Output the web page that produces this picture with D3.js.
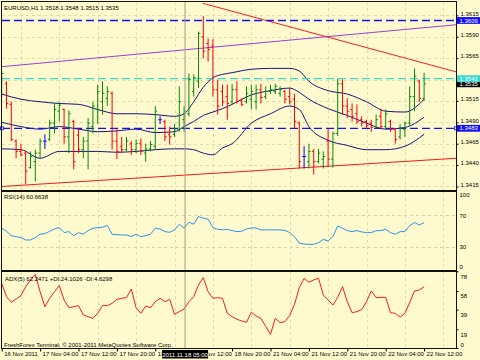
<!DOCTYPE html>
<html><head><meta charset="utf-8">
<script src="https://cdn.jsdelivr.net/npm/d3@7"></script>
<style>
html,body{margin:0;padding:0;background:#fffacd;}
svg{display:block;}
text{font-family:"Liberation Sans",Arial,sans-serif;font-size:6px;fill:#000;}
</style></head><body>
<svg id="c" width="480" height="360"></svg>
<script>
// ---------- DATA ----------
const opens  = [1.3524,1.3535,1.3511,1.3468,1.3456,1.3454,1.3437,1.3444,1.3454,1.3468,1.3470,1.3489,1.3503,1.3505,1.3473,1.3491,1.3475,1.3458,1.3468,1.3485,1.3505,1.3514,1.3518,1.3524,1.3468,1.3462,1.3458,1.3465,1.3458,1.3465,1.3454,1.3459,1.3462,1.3493,1.3491,1.3476,1.3476,1.3482,1.3493,1.3500,1.3526,1.3538,1.3590,1.3582,1.3579,1.3528,1.3526,1.3520,1.3514,1.3528,1.3515,1.3514,1.3517,1.3514,1.3528,1.3520,1.3526,1.3526,1.3524,1.3526,1.3520,1.3517,1.3489,1.3450,1.3444,1.3456,1.3444,1.3447,1.3468,1.3447,1.3477,1.3535,1.3509,1.3505,1.3500,1.3493,1.3491,1.3489,1.3485,1.3497,1.3485,1.3491,1.3482,1.3473,1.3482,1.3489,1.3520,1.3538,1.3518];
const highs  = [1.3550,1.3538,1.3514,1.3470,1.3465,1.3457,1.3456,1.3458,1.3471,1.3476,1.3493,1.3512,1.3514,1.3506,1.3504,1.3493,1.3483,1.3473,1.3495,1.3514,1.3534,1.3538,1.3532,1.3526,1.3482,1.3473,1.3473,1.3468,1.3470,1.3471,1.3465,1.3468,1.3509,1.3497,1.3493,1.3485,1.3488,1.3532,1.3509,1.3547,1.3546,1.3596,1.3614,1.3588,1.3587,1.3540,1.3534,1.3534,1.3535,1.3538,1.3518,1.3532,1.3534,1.3534,1.3535,1.3532,1.3534,1.3535,1.3532,1.3528,1.3530,1.3523,1.3491,1.3462,1.3465,1.3459,1.3459,1.3456,1.3482,1.3479,1.3541,1.3540,1.3518,1.3512,1.3511,1.3497,1.3493,1.3493,1.3499,1.3506,1.3505,1.3493,1.3483,1.3488,1.3491,1.3532,1.3553,1.3540,1.3548];
const lows   = [1.3520,1.3506,1.3468,1.3448,1.3450,1.3418,1.3436,1.3421,1.3448,1.3459,1.3468,1.3477,1.3491,1.3465,1.3454,1.3435,1.3454,1.3448,1.3435,1.3477,1.3488,1.3499,1.3509,1.3458,1.3447,1.3454,1.3456,1.3452,1.3454,1.3452,1.3444,1.3456,1.3458,1.3488,1.3468,1.3464,1.3473,1.3479,1.3479,1.3497,1.3520,1.3530,1.3565,1.3561,1.3520,1.3499,1.3509,1.3493,1.3511,1.3512,1.3509,1.3512,1.3505,1.3505,1.3512,1.3517,1.3523,1.3523,1.3520,1.3512,1.3511,1.3483,1.3436,1.3436,1.3436,1.3429,1.3442,1.3436,1.3438,1.3437,1.3474,1.3499,1.3495,1.3491,1.3488,1.3485,1.3483,1.3479,1.3483,1.3482,1.3482,1.3479,1.3465,1.3470,1.3473,1.3486,1.3503,1.3514,1.3515];
const closes = [1.3547,1.3512,1.3470,1.3456,1.3452,1.3433,1.3450,1.3454,1.3468,1.3468,1.3489,1.3505,1.3510,1.3473,1.3500,1.3444,1.3458,1.3468,1.3489,1.3509,1.3526,1.3524,1.3526,1.3468,1.3456,1.3458,1.3468,1.3458,1.3465,1.3456,1.3459,1.3464,1.3503,1.3493,1.3473,1.3473,1.3482,1.3514,1.3503,1.3540,1.3542,1.3594,1.3573,1.3575,1.3528,1.3509,1.3514,1.3512,1.3528,1.3514,1.3511,1.3524,1.3526,1.3528,1.3519,1.3526,1.3528,1.3532,1.3528,1.3517,1.3514,1.3491,1.3444,1.3450,1.3456,1.3444,1.3454,1.3450,1.3447,1.3477,1.3535,1.3509,1.3503,1.3497,1.3491,1.3489,1.3486,1.3484,1.3493,1.3485,1.3500,1.3482,1.3470,1.3483,1.3489,1.3520,1.3544,1.3518,1.3535];

// Bollinger bands read at sample bars
const bandBars  = [0,4,8,12,16,20,24,28,32,36,38,40,42,44,46,48,52,56,60,62,64,68,72,76,80,84,88];
const bandUpper = [1.3523,1.3517,1.3514,1.3512,1.3511,1.3505,1.3500,1.3500,1.3499,1.3497,1.3500,1.3514,1.3531,1.3542,1.3546,1.3548,1.3552,1.3553,1.3553,1.3550,1.3538,1.3527,1.3523,1.3514,1.3503,1.3502,1.3517];
const bandMid   = [1.3490,1.3485,1.3482,1.3485,1.3482,1.3479,1.3480,1.3482,1.3478,1.3479,1.3485,1.3491,1.3498,1.3502,1.3506,1.3511,1.3522,1.3527,1.3530,1.3525,1.3517,1.3506,1.3498,1.3489,1.3482,1.3484,1.3496];
const bandLower = [1.3459,1.3458,1.3448,1.3456,1.3456,1.3456,1.3455,1.3456,1.3458,1.3459,1.3459,1.3458,1.3454,1.3452,1.3460,1.3465,1.3489,1.3500,1.3509,1.3505,1.3485,1.3469,1.3463,1.3458,1.3458,1.3462,1.3476];

// Trend lines: [bar, price] end points
const purpleLine   = [[0,1.3555],[94.65,1.3604]];
const redUpperLine = [[41.94,1.3629],[94.65,1.3549]];
const redLowerLine = [[0,1.3415],[94.65,1.3448]];
// Horizontal levels
const levels = [1.3609,1.3541,1.3483];
const lastPrice = 1.3535;

const rsi = [53.5,49.6,44.0,42.8,41.5,38.5,38.5,41.5,45.8,46.6,49.6,52.6,54.4,47.9,49.2,44.0,47.9,45.8,50.5,53.5,54.4,54.8,57.0,45.8,45.3,44.9,44.9,42.8,45.8,42.8,44.0,45.8,53.5,52.6,49.2,48.3,51.4,58.7,53.5,61.2,58.7,68.6,66.4,65.1,54.4,52.2,51.4,52.2,50.5,49.2,49.6,52.6,53.9,53.9,51.4,51.4,51.4,51.4,51.4,50.9,47.9,42.8,34.2,33.3,32.9,32.9,35.0,39.3,37.2,42.8,56.5,53.5,50.5,49.2,50.5,48.8,47.9,47.9,50.5,50.5,52.2,47.9,45.8,49.2,49.2,57.0,60.8,57.8,60.66];
const adx = [65.8,52.2,46.5,49.8,53.2,62.4,69.2,74.9,57.3,42.0,50.5,57.3,63.4,48.8,41.0,42.0,43.1,33.6,31.9,30.2,35.3,43.1,43.1,45.4,49.5,50.5,51.2,60.0,41.0,35.3,42.7,41.0,47.1,50.5,47.1,49.5,34.3,37.0,39.7,47.1,52.2,64.1,71.5,57.3,50.5,51.2,50.5,35.3,31.9,29.2,27.5,26.1,36.3,32.6,30.2,22.0,13.9,30.2,25.8,26.8,33.2,44.4,61.4,70.9,66.8,69.2,70.9,53.9,48.8,43.7,51.5,62.4,47.1,35.9,37.0,39.0,47.1,58.0,51.2,51.5,51.5,35.9,35.3,31.2,35.3,46.1,58.0,59.0,62.25];

const priceTicks = [1.3615,1.3590,1.3565,1.3540,1.3515,1.3490,1.3465,1.3440,1.3415];
const rsiTicks = [100,70,30,0];
const rsiLevels = [70,30];
const adxTicks = [78,58,39,19,0];
const gridBars = [4,12,20,28,36,44,52,60,68,76,84,92];
const timeBars = [0,8,16,24,32,40,48,56,64,72,80,88];
const timeLabels = ["16 Nov 2011","17 Nov 04:00","17 Nov 12:00","17 Nov 20:00","18 Nov 04:00","18 Nov 12:00","18 Nov 20:00","21 Nov 04:00","21 Nov 12:00","21 Nov 20:00","22 Nov 04:00","22 Nov 12:00"];
const crossBar = 38.2;
const crossLabel = "2011.11.18 05:00";
const titleMain = "EURUSD,H1  1.3518 1.3548 1.3515 1.3535";
const titleRsi = "RSI(14) 60.6638";
const titleAdx = "ADX(5) 62.2471 +DI:24.1026 -DI:4.6298";
const copyright = "FreshForex Terminal, \u00A9 2001-2011 MetaQuotes Software Corp.";

// ---------- DRAW ----------
const svg = d3.select("#c");
const X = d3.scaleLinear().domain([0,88]).range([1.7,424.1]);
const YP = d3.scaleLinear().domain([1.34109,1.36306]).range([190,2]);
const YR = d3.scaleLinear().domain([0,100]).range([270,192]);
const YA = d3.scaleLinear().domain([0,78.3]).range([348,271]);

svg.append("rect").attr("width",480).attr("height",360).attr("fill","#fffacd");
const defs = svg.append("defs");
[["cm",2,2,454,188],["cr",2,192,454,78],["ca",2,272,454,76]].forEach(c=>{
  defs.append("clipPath").attr("id",c[0]).append("rect").attr("x",c[1]).attr("y",c[2]).attr("width",c[3]).attr("height",c[4]);
});
const cxBox = X(crossBar);
// clip for time-axis group (group coords: y offset 348.5)
const ct = defs.append("clipPath").attr("id","ct");
ct.append("rect").attr("x",0).attr("y",-10).attr("width",cxBox-22.5).attr("height",22);
ct.append("rect").attr("x",cxBox+23.5).attr("y",-10).attr("width",480).attr("height",22);

const gridCol = "#e2dbab";
function vgrid(g,y1,y2){
  g.selectAll("line.vg").data(gridBars).join("line")
   .attr("x1",d=>Math.round(X(d))+0.5).attr("x2",d=>Math.round(X(d))+0.5).attr("y1",y1).attr("y2",y2)
   .attr("stroke",gridCol).attr("stroke-dasharray","3,3");
}

const main = svg.append("g").attr("clip-path","url(#cm)");
main.selectAll("line.hg").data(priceTicks).join("line")
  .attr("x1",2).attr("x2",456).attr("y1",d=>Math.round(YP(d))+0.5).attr("y2",d=>Math.round(YP(d))+0.5)
  .attr("stroke",gridCol).attr("stroke-dasharray","3,3");
vgrid(main,2,190);

// trend lines
const tl = d3.line().x(d=>X(d[0])).y(d=>YP(d[1]));
main.append("path").attr("d",tl(purpleLine)).attr("stroke","#9a3fd0").attr("fill","none").attr("stroke-width",1);
main.append("path").attr("d",tl(redUpperLine)).attr("stroke","#f02020").attr("fill","none").attr("stroke-width",1);
main.append("path").attr("d",tl(redLowerLine)).attr("stroke","#ec1c1c").attr("fill","none").attr("stroke-width",1);

// bands
[bandUpper,bandMid,bandLower].forEach(arr=>{
  const pts = bandBars.map((b,i)=>[b,arr[i]]);
  main.append("path").attr("d",d3.line().x(d=>X(d[0])).y(d=>YP(d[1])).curve(d3.curveMonotoneX)(pts))
    .attr("fill","none").attr("stroke","#14147a").attr("stroke-width",1);
});

// horizontal levels
const levelColors = ["#1010ff","#38d8d0","#1010ff"];
main.selectAll("line.lv").data(levels).join("line")
  .attr("x1",2).attr("x2",456).attr("y1",d=>YP(d)).attr("y2",d=>YP(d))
  .attr("stroke",(d,i)=>levelColors[i]).attr("stroke-width",1.3).attr("stroke-dasharray","8,4");

// bars
const idx = d3.range(opens.length);
main.selectAll("path.bar").data(idx).join("path")
  .attr("d",i=>{const x=X(i);return `M${x},${YP(highs[i])}V${YP(lows[i])}M${x-1.8},${YP(opens[i])}H${x}M${x},${YP(closes[i])}H${x+1.8}`;})
  .attr("fill","none").attr("stroke-width",1)
  .attr("stroke",i=>closes[i]>opens[i]?"#078a07":(closes[i]<opens[i]?"#ff0000":"#0000ff"));

// markers on 1.3483 line
[[2,levels[2]],[456,levels[2]]].forEach(m=>{
  svg.append("rect").attr("x",m[0]-1.5).attr("y",YP(m[1])-1.5).attr("width",3).attr("height",3)
    .attr("fill","#fffacd").attr("stroke","#1010ff").attr("stroke-width",0.8);
});

// RSI panel
const rp = svg.append("g").attr("clip-path","url(#cr)");
vgrid(rp,192,270);
rp.selectAll("line.rg").data(rsiLevels).join("line")
  .attr("x1",2).attr("x2",456).attr("y1",d=>Math.round(YR(d))+0.5).attr("y2",d=>Math.round(YR(d))+0.5)
  .attr("stroke","#d6cfa2").attr("stroke-dasharray","3,3");
rp.append("path").attr("d",d3.line().x((d,i)=>X(i)).y(d=>YR(d))(rsi))
  .attr("fill","none").attr("stroke","#2a92f0").attr("stroke-width",1);

// ADX panel
const ap = svg.append("g").attr("clip-path","url(#ca)");
vgrid(ap,272,348);
ap.append("path").attr("d",d3.line().x((d,i)=>X(i)).y(d=>YA(d))(adx))
  .attr("fill","none").attr("stroke","#f41c1c").attr("stroke-width",1);

// crosshair
svg.append("line").attr("x1",cxBox).attr("x2",cxBox).attr("y1",2).attr("y2",349)
  .attr("stroke","#a39b86").attr("stroke-width",1);

// frames
const fr = svg.append("g").attr("stroke","#111").attr("fill","none");
fr.append("line").attr("x1",1.5).attr("x2",1.5).attr("y1",1).attr("y2",349);
fr.append("line").attr("x1",1).attr("x2",456).attr("y1",1.5).attr("y2",1.5);
fr.append("line").attr("x1",456.5).attr("x2",456.5).attr("y1",1).attr("y2",349);
fr.append("line").attr("x1",1).attr("x2",457).attr("y1",191).attr("y2",191).attr("stroke-width",2);
fr.append("line").attr("x1",1).attr("x2",457).attr("y1",271).attr("y2",271).attr("stroke-width",2);
fr.append("line").attr("x1",1).attr("x2",457).attr("y1",348.5).attr("y2",348.5);

// right axes
function styleAxis(g){g.select(".domain").remove();g.selectAll(".tick line").attr("stroke","#000");
  g.selectAll("text").attr("font-family","Liberation Sans, Arial, sans-serif").attr("font-size",6).attr("fill","#000");}
svg.append("g").attr("transform","translate(456.5,0)")
  .call(d3.axisRight(YP).tickValues(priceTicks).tickSize(2).tickPadding(2).tickFormat(d3.format(".4f")))
  .call(styleAxis).selectAll("text").attr("dy","-0.05em");
svg.append("g").attr("transform","translate(456.5,0)")
  .call(d3.axisRight(YR).tickValues(rsiTicks).tickSize(0).tickPadding(3))
  .call(styleAxis).selectAll("text").attr("y",d=>d===100?3:(d===0?-3:0));
svg.append("g").attr("transform","translate(456.5,0)")
  .call(d3.axisRight(YA).tickValues(adxTicks).tickSize(2).tickPadding(2))
  .call(styleAxis).selectAll("text").attr("y",d=>d===0?-3:5);

// level boxes on price axis (black current price first, levels on top)
const boxes = [[lastPrice,"#000"],[levels[0],"#1010ff"],[levels[1],"#38d8d0"],[levels[2],"#1010ff"]];
boxes.forEach(b=>{
  const y=YP(b[0]);
  svg.append("rect").attr("x",457).attr("y",y-3.4).attr("width",23).attr("height",6.8).attr("fill",b[1]);
  svg.append("text").attr("x",459.5).attr("y",y+2.1).text(d3.format(".4f")(b[0])).style("fill","#fff");
});

// time axis (labels hidden under the crosshair box are clipped)
svg.append("g").attr("transform","translate(0,348.5)").attr("clip-path","url(#ct)")
  .call(d3.axisBottom(X).tickValues(timeBars).tickSize(3).tickPadding(2).tickFormat((d,i)=>timeLabels[i]))
  .call(g=>{g.select(".domain").remove();g.selectAll(".tick line").attr("stroke","#000");
    g.selectAll("text").attr("text-anchor","start").attr("dx",2).attr("y",5.5).attr("dy","0.35em")
     .attr("font-family","Liberation Sans, Arial, sans-serif").attr("font-size",6).attr("fill","#000");});
// crosshair time box
svg.append("rect").attr("x",cxBox-23).attr("y",350).attr("width",46).attr("height",8.5).attr("fill","#000");
svg.append("text").attr("x",cxBox).attr("y",356.5).attr("text-anchor","middle").text(crossLabel).style("fill","#fff");

// titles
svg.append("text").attr("x",4).attr("y",10).text(titleMain);
svg.append("text").attr("x",4).attr("y",199).text(titleRsi);
svg.append("text").attr("x",5).attr("y",280.5).text(titleAdx);
svg.append("text").attr("x",4).attr("y",347).text(copyright);
</script>
</body></html>
